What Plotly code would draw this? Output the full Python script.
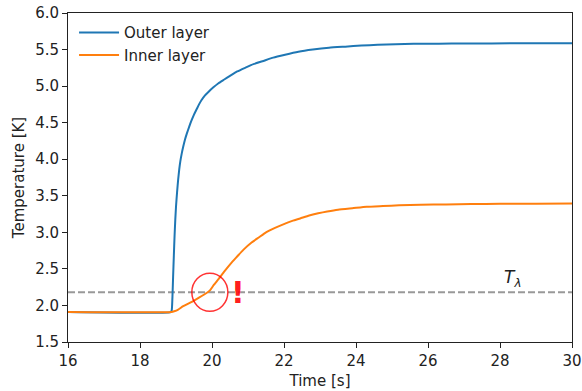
import plotly.graph_objects as go

# Time axis (s) and temperatures (K) of the two layers
outer_time = [16.0, 18.85, 18.88, 18.90, 18.92, 18.94, 18.96, 18.98, 19.00, 19.03,
              19.06, 19.09, 19.12, 19.16, 19.20, 19.25, 19.30, 19.37, 19.44, 19.50,
              19.57, 19.64, 19.71, 19.80, 19.90, 20.03, 20.18, 20.34, 20.50, 20.70,
              20.92, 21.15, 21.40, 21.70, 22.03, 22.40, 22.80, 23.25, 23.70, 24.15,
              24.60, 25.10, 25.60, 26.30, 27.00, 28.50, 30.0]
outer_temp = [1.91, 1.91, 1.93, 2.10, 2.40, 2.68, 2.95, 3.17, 3.35, 3.55,
              3.72, 3.86, 3.97, 4.08, 4.17, 4.27, 4.35, 4.45, 4.54, 4.61,
              4.68, 4.75, 4.81, 4.87, 4.92, 4.98, 5.04, 5.09, 5.14, 5.20,
              5.25, 5.30, 5.34, 5.39, 5.43, 5.47, 5.50, 5.525, 5.54, 5.555,
              5.565, 5.573, 5.578, 5.581, 5.583, 5.585, 5.585]

inner_time = [16.0, 18.88, 18.95, 19.05, 19.20, 19.44, 19.65, 19.85, 19.95, 20.05,
              20.18, 20.35, 20.55, 20.70, 20.87, 21.10, 21.30, 21.50, 21.75, 22.03,
              22.25, 22.45, 22.70, 22.95, 23.20, 23.50, 23.90, 24.30, 24.75, 25.20,
              25.80, 26.50, 27.20, 28.00, 29.00, 30.0]
inner_temp = [1.91, 1.91, 1.92, 1.94, 1.99, 2.05, 2.11, 2.17, 2.21, 2.28,
              2.36, 2.47, 2.59, 2.67, 2.76, 2.86, 2.93, 3.00, 3.06, 3.12,
              3.16, 3.19, 3.23, 3.26, 3.285, 3.31, 3.33, 3.35, 3.36, 3.37,
              3.377, 3.382, 3.386, 3.39, 3.392, 3.393]

series_names = ["Outer layer", "Inner layer"]
series_colors = ["#1f77b4", "#ff7f0e"]

# Lambda-point temperature and the marked crossing
t_lambda = 2.18
crossing_time = 19.94
x_ticks = [16, 18, 20, 22, 24, 26, 28, 30]
y_ticks = [1.5, 2.0, 2.5, 3.0, 3.5, 4.0, 4.5, 5.0, 5.5, 6.0]

font_family = "DejaVu Sans, sans-serif"
text_color = "#222"

fig = go.Figure()
for name, xs, ys, color in zip(series_names, [outer_time, inner_time],
                               [outer_temp, inner_temp], series_colors):
    fig.add_trace(go.Scatter(x=xs, y=ys, mode="lines", name=name,
                             line=dict(color=color, width=2, shape="spline", smoothing=0.5)))

# Dashed lambda line
fig.add_shape(type="line", xref="x", yref="y", x0=16, x1=30, y0=t_lambda, y1=t_lambda,
              line=dict(color="rgba(128,128,128,0.8)", width=2, dash="7px,3px"), layer="below")
fig.add_annotation(x=28.35, y=t_lambda, yshift=14, text="<i>T<sub>λ</sub></i>",
                   showarrow=False, font=dict(family=font_family, size=17, color=text_color))

# Circle around the crossing point
fig.add_shape(type="circle", xref="x", yref="y", xsizemode="pixel", ysizemode="pixel",
              xanchor=crossing_time, yanchor=t_lambda, x0=-18, x1=18, y0=-19, y1=19,
              line=dict(color="rgba(255,0,0,0.8)", width=1.5))
fig.add_annotation(x=crossing_time, y=t_lambda, xshift=28, text="<b>!</b>", showarrow=False,
                   font=dict(family=font_family, size=30, color="rgba(255,0,0,0.9)"))

axis_common = dict(showline=True, linecolor=text_color, linewidth=1, mirror=True,
                   ticks="outside", ticklen=5, tickcolor=text_color, showgrid=False,
                   zeroline=False, automargin=False,
                   tickfont=dict(family=font_family, size=15, color=text_color))

fig.update_xaxes(range=[16, 30], tickvals=x_ticks, ticktext=[str(v) for v in x_ticks],
                 title=dict(text="Time [s]", font=dict(family=font_family, size=15, color=text_color),
                            standoff=6),
                 **axis_common)
fig.update_yaxes(range=[1.5, 6.0], tickvals=y_ticks, ticktext=[f"{v:.1f}" for v in y_ticks],
                 title=dict(text="Temperature [K]", font=dict(family=font_family, size=15, color=text_color),
                            standoff=6),
                 **axis_common)

fig.update_layout(
    width=582, height=391,
    margin=dict(l=68, r=10, t=13, b=49),
    paper_bgcolor="white", plot_bgcolor="white",
    font=dict(family=font_family, size=15, color=text_color),
    legend=dict(x=0.012, y=0.99, xanchor="left", yanchor="top", bgcolor="rgba(0,0,0,0)",
                itemwidth=40, font=dict(family=font_family, size=15, color=text_color)),
    showlegend=True,
)

fig.write_html("out.html")
